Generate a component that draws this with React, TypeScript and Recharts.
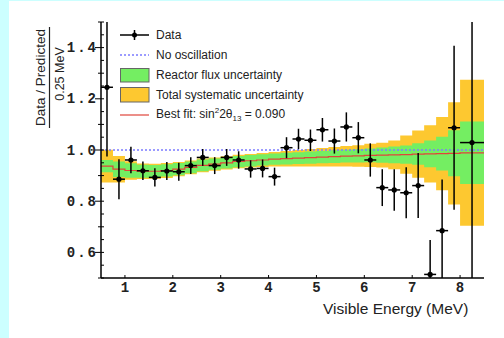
import React from "react";
import {
  ComposedChart,
  Area,
  Line,
  Scatter,
  ErrorBar,
  XAxis,
  YAxis,
  ReferenceLine,
} from "recharts";

// bin edges (MeV): 0.25 MeV bins, last one is 8.0 - 8.5
const binEdges = [
  0.5, 0.75, 1.0, 1.25, 1.5, 1.75, 2.0, 2.25, 2.5, 2.75, 3.0, 3.25, 3.5, 3.75,
  4.0, 4.25, 4.5, 4.75, 5.0, 5.25, 5.5, 5.75, 6.0, 6.25, 6.5, 6.75, 7.0, 7.25,
  7.5, 7.75, 8.0, 8.5,
];

// best fit ratio per bin
const bestFit = [
  0.937, 0.925, 0.92, 0.917, 0.917, 0.92, 0.925, 0.932, 0.94, 0.945, 0.95,
  0.955, 0.958, 0.961, 0.964, 0.966, 0.968, 0.97, 0.972, 0.974, 0.976, 0.977,
  0.979, 0.98, 0.981, 0.982, 0.984, 0.985, 0.986, 0.987, 0.989,
];

// half widths of the bands
const fluxErr = [
  0.024, 0.03, 0.028, 0.025, 0.024, 0.024, 0.024, 0.023, 0.023, 0.022, 0.022,
  0.022, 0.022, 0.022, 0.022, 0.023, 0.023, 0.024, 0.024, 0.025, 0.025, 0.026,
  0.027, 0.03, 0.033, 0.036, 0.042, 0.052, 0.066, 0.09, 0.122,
];
const totalErr = [
  0.064, 0.052, 0.036, 0.03, 0.029, 0.029, 0.028, 0.027, 0.027, 0.026, 0.026,
  0.026, 0.026, 0.027, 0.028, 0.03, 0.032, 0.034, 0.036, 0.038, 0.04, 0.042,
  0.045, 0.048, 0.056, 0.075, 0.092, 0.112, 0.143, 0.2, 0.285,
];

// data points
const energy = [
  0.625, 0.875, 1.125, 1.375, 1.625, 1.875, 2.125, 2.375, 2.625, 2.875, 3.125,
  3.375, 3.625, 3.875, 4.125, 4.375, 4.625, 4.875, 5.125, 5.375, 5.625, 5.875,
  6.125, 6.375, 6.625, 6.875, 7.125, 7.375, 7.625, 7.875, 8.25,
];
const ratio = [
  1.245, 0.886, 0.961, 0.919, 0.893, 0.918, 0.915, 0.939, 0.971, 0.939, 0.971,
  0.961, 0.926, 0.928, 0.896, 1.009, 1.043, 1.038, 1.079, 1.035, 1.09, 1.048,
  0.961, 0.853, 0.844, 0.833, 0.861, 0.514, 0.685, 1.087, 1.029,
];
const ratioErr = [
  0.27, 0.078, 0.052, 0.036, 0.036, 0.035, 0.035, 0.033, 0.033, 0.033, 0.033,
  0.034, 0.034, 0.035, 0.035, 0.041, 0.04, 0.042, 0.046, 0.049, 0.057, 0.061,
  0.065, 0.072, 0.081, 0.1, 0.127, 0.134, 0.2, 0.32, 0.56,
];

const xTicks = [1, 2, 3, 4, 5, 6, 7, 8];
const yTicks = [
  0.5, 0.55, 0.6, 0.65, 0.7, 0.75, 0.8, 0.85, 0.9, 0.95, 1.0, 1.05, 1.1, 1.15,
  1.2, 1.25, 1.3, 1.35, 1.4, 1.45, 1.5,
];
const yLabels = [0.6, 0.8, 1.0, 1.2, 1.4];
const Y_MIN = 0.5;
const Y_MAX = 1.5;

const ORANGE = "#fdc830";
const GREEN = "#74ee62";
const RED = "#e0443a";
const BLUE = "#7b7bff";

const bandRows = binEdges.map((e, i) => {
  const k = Math.min(i, bestFit.length - 1);
  return {
    e,
    fit: bestFit[k],
    flux: [bestFit[k] - fluxErr[k], bestFit[k] + fluxErr[k]],
    total: [bestFit[k] - totalErr[k], bestFit[k] + totalErr[k]],
  };
});

// error bars are cut at the frame, like the original
const points = energy.map((e, i) => ({
  e,
  r: ratio[i],
  err: [
    Math.min(ratioErr[i], ratio[i] - Y_MIN),
    Math.min(ratioErr[i], Y_MAX - ratio[i]),
  ],
  xErr: (binEdges[i + 1] - binEdges[i]) / 2,
}));

const tickFont = {
  fontFamily: "'Liberation Mono', monospace",
  fontWeight: 700,
  fontSize: 14,
  fill: "#222",
};

const near = (a: number, b: number) => Math.abs(a - b) < 1e-6;

function LeftTick(props: any) {
  const { x, y, payload } = props;
  const v = payload.value;
  const major = near(v * 10, Math.round(v * 10));
  const labeled = yLabels.some((l) => near(l, v));
  return (
    <g>
      <line x1={x} x2={x + 3} y1={y} y2={y} stroke="#000" />
      {major && (
        <line x1={x - (labeled ? 6 : 3)} x2={x} y1={y} y2={y} stroke="#000" />
      )}
      {labeled && (
        <text x={x - 3} y={y} dy={4.5} textAnchor="end" letterSpacing={2} {...tickFont}>
          {v.toFixed(1)}
        </text>
      )}
    </g>
  );
}

function BottomTick(props: any) {
  const { x, y, payload } = props;
  return (
    <g>
      <line x1={x} x2={x} y1={y} y2={y - 3} stroke="#000" />
      <text x={x} y={y} dy={14} textAnchor="middle" {...tickFont}>
        {payload.value}
      </text>
    </g>
  );
}

function TopTick(props: any) {
  const { x, y } = props;
  return <line x1={x} x2={x} y1={y} y2={y + 3} stroke="#000" />;
}

function RightTick(props: any) {
  const { x, y, payload } = props;
  const major = near(payload.value * 10, Math.round(payload.value * 10));
  if (!major) return <g />;
  return <line x1={x} x2={x - 4} y1={y} y2={y} stroke="#000" />;
}

function YTitle() {
  return (
    <g fontFamily="'Liberation Sans', Arial, sans-serif" fill="#222">
      <text x={36} y={76.5} transform="rotate(-90 36 76.5)" textAnchor="middle" fontSize={13.5}>
        Data / Predicted
      </text>
      <line x1={40.5} x2={40.5} y1={26} y2={127} stroke="#222" strokeWidth={1.2} />
      <text x={55} y={73} transform="rotate(-90 55 73)" textAnchor="middle" fontSize={12.5}>
        0.25 MeV
      </text>
    </g>
  );
}

const legendRow: React.CSSProperties = {
  position: "absolute",
  left: 111,
  height: 20,
  display: "flex",
  alignItems: "center",
  fontFamily: "'Liberation Sans', Arial, sans-serif",
  fontSize: 12,
  color: "#222",
  whiteSpace: "nowrap",
};

function Legend() {
  const sym = (child: React.ReactNode) => (
    <svg width={30} height={20} style={{ marginRight: 6 }}>
      {child}
    </svg>
  );
  return (
    <>
      <div style={{ ...legendRow, top: 24 }}>
        {sym(
          <g>
            <line x1={0} x2={29} y1={10} y2={10} stroke="#000" strokeWidth={1.5} />
            <line x1={14.5} x2={14.5} y1={5} y2={15} stroke="#000" strokeWidth={1.5} />
            <circle cx={14.5} cy={10} r={2.5} fill="#000" />
          </g>
        )}
        Data
      </div>
      <div style={{ ...legendRow, top: 44 }}>
        {sym(
          <line x1={0} x2={29} y1={10} y2={10} stroke={BLUE} strokeWidth={1.5} strokeDasharray="2 2" />
        )}
        No oscillation
      </div>
      <div style={{ ...legendRow, top: 63.5 }}>
        {sym(<rect x={0.5} y={3.5} width={28.5} height={13.5} fill={GREEN} stroke="#666" />)}
        Reactor flux uncertainty
      </div>
      <div style={{ ...legendRow, top: 83.5 }}>
        {sym(<rect x={0.5} y={2.5} width={28.5} height={14.5} fill={ORANGE} stroke="#666" />)}
        Total systematic uncertainty
      </div>
      <div style={{ ...legendRow, top: 104 }}>
        {sym(<line x1={0} x2={29} y1={10} y2={10} stroke={RED} strokeWidth={1.2} />)}
        <span>
          Best fit: sin<sup style={{ fontSize: 8 }}>2</sup>2θ
          <sub style={{ fontSize: 8 }}>13</sub> = 0.090
        </span>
      </div>
    </>
  );
}

export default function App() {
  return (
    <div
      style={{
        position: "fixed",
        left: 0,
        top: 0,
        width: 504,
        height: 338,
        background: "#ccffff",
      }}
    >
      <div
        style={{
          position: "absolute",
          left: 9,
          top: 1,
          width: 495,
          height: 337,
          background: "#fff",
        }}
      >
        <ComposedChart
          width={495}
          height={337}
          margin={{ top: 21, right: 20, bottom: 0, left: 0 }}
        >
          <XAxis
            dataKey="e"
            type="number"
            domain={[0.5, 8.5]}
            allowDataOverflow
            ticks={xTicks}
            interval={0}
            height={60}
            tickSize={0}
            tickMargin={0}
            tickLine={false}
            tick={BottomTick}
            axisLine={{ stroke: "#000", strokeWidth: 1.5 }}
          />
          <XAxis
            xAxisId="top"
            orientation="top"
            type="number"
            domain={[0.5, 8.5]}
            allowDataOverflow
            ticks={xTicks}
            interval={0}
            height={0}
            tickSize={0}
            tickMargin={0}
            tickLine={false}
            tick={TopTick}
            axisLine={{ stroke: "#000", strokeWidth: 1.5 }}
          />
          <YAxis
            type="number"
            domain={[Y_MIN, Y_MAX]}
            allowDataOverflow
            ticks={yTicks}
            interval={0}
            width={92}
            tickSize={0}
            tickMargin={0}
            tickLine={false}
            tick={LeftTick}
            axisLine={{ stroke: "#000", strokeWidth: 1.5 }}
            label={{ content: () => <YTitle /> }}
          />
          <YAxis
            yAxisId="right"
            orientation="right"
            type="number"
            domain={[Y_MIN, Y_MAX]}
            allowDataOverflow
            ticks={yTicks}
            interval={0}
            width={0}
            tickSize={0}
            tickMargin={0}
            tickLine={false}
            tick={RightTick}
            axisLine={{ stroke: "#000", strokeWidth: 1.5 }}
          />
          <Area
            data={bandRows}
            dataKey="total"
            type="stepAfter"
            stroke="none"
            fill={ORANGE}
            fillOpacity={1}
            isAnimationActive={false}
            dot={false}
            activeDot={false}
          />
          <Area
            data={bandRows}
            dataKey="flux"
            type="stepAfter"
            stroke="none"
            fill={GREEN}
            fillOpacity={1}
            isAnimationActive={false}
            dot={false}
            activeDot={false}
          />
          <Line
            data={bandRows}
            dataKey="fit"
            type="stepAfter"
            stroke={RED}
            strokeWidth={1.2}
            dot={false}
            activeDot={false}
            isAnimationActive={false}
          />
          <ReferenceLine
            y={1}
            stroke={BLUE}
            strokeWidth={1.5}
            strokeDasharray="2 2"
          />
          <Scatter
            data={points}
            dataKey="r"
            isAnimationActive={false}
            shape={(p: any) => <circle cx={p.cx} cy={p.cy} r={2.6} fill="#000" />}
          >
            <ErrorBar dataKey="err" direction="y" width={0} stroke="#000" strokeWidth={1.5} />
            <ErrorBar dataKey="xErr" direction="x" width={0} stroke="#000" strokeWidth={1.5} />
          </Scatter>
        </ComposedChart>
        <Legend />
        <div
          style={{
            position: "absolute",
            left: 314,
            top: 299,
            fontFamily: "'Liberation Sans', Arial, sans-serif",
            fontSize: 15.5,
            color: "#222",
            whiteSpace: "nowrap",
          }}
        >
          Visible Energy (MeV)
        </div>
      </div>
    </div>
  );
}
